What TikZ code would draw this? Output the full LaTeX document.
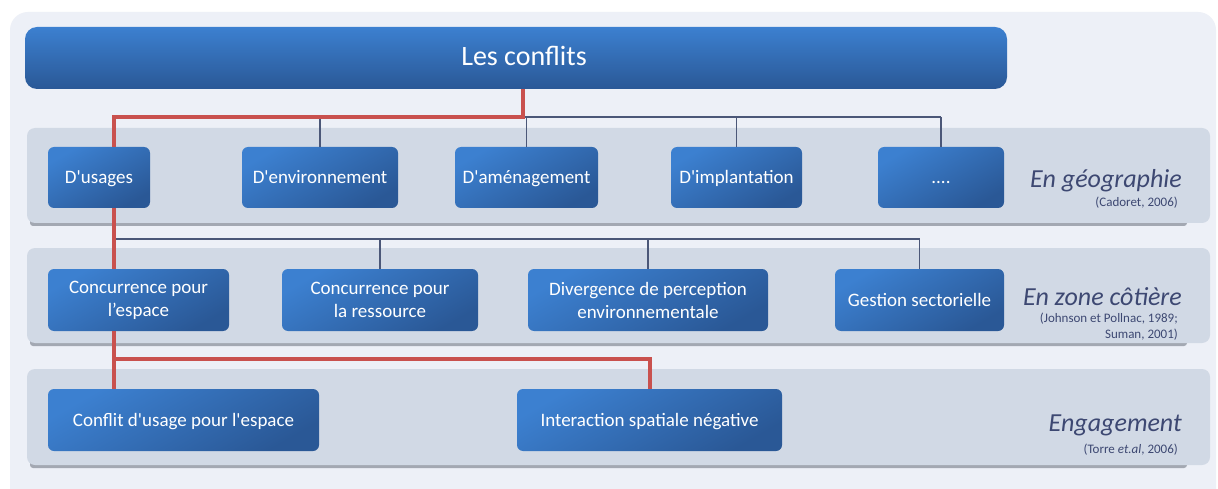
\documentclass[tikz,border=0pt]{standalone}
\usepackage{fontspec}
\setmainfont{Carlito}[Ligatures=TeXOff]
\usetikzlibrary{calc}
\definecolor{panelc}{HTML}{EDF0F7}
\definecolor{bandc}{HTML}{D1D9E5}
\definecolor{shadc}{HTML}{A3A8B2}
\definecolor{boxtop}{HTML}{3C80D0}
\definecolor{boxbot}{HTML}{2A5896}
\definecolor{redc}{HTML}{C9514E}
\definecolor{thinc}{HTML}{4B5778}
\definecolor{catc}{HTML}{3D4872}
\begin{document}
\begin{tikzpicture}[x=1pt,y=-1pt,
  box/.style={rounded corners=6pt, top color=boxtop, bottom color=boxbot, shading angle=30,
    text=white, font=\fontsize{19}{23}\selectfont, align=center, inner sep=0pt},
  onebox/.style={box, text height=15pt, text depth=3pt},
  titlebox/.style={rounded corners=12pt, top color=boxtop, bottom color=boxbot,
    text=white, font=\fontsize{27}{32}\selectfont, inner sep=0pt},
  band/.style={fill=bandc, rounded corners=8pt},
  bandshadow/.style={fill=shadc, rounded corners=3pt},
  redl/.style={draw=redc, line width=4pt},
  thinl/.style={draw=thinc, line width=1.3pt},
  cat/.style={text=catc, font=\fontsize{26}{30}\selectfont\itshape, inner sep=0pt, anchor=base east},
  cite/.style={text=catc, font=\fontsize{13}{16}\selectfont, inner sep=0pt, align=right, anchor=base east}]
\useasboundingbox (0,0) rectangle (1218,489);
\fill[white] (0,0) rectangle (1218,489);
\begin{scope}
\clip (0,0) rectangle (1218,489);
\fill[panelc, rounded corners=18pt] (10,12) rectangle (1216,510);
\end{scope}
% bands
\fill[bandshadow] (30,219) rectangle (1187,226);
\fill[band] (27,128) rectangle (1210,223);
\fill[bandshadow] (30,339) rectangle (1187,346);
\fill[band] (27,248) rectangle (1210,343);
\fill[bandshadow] (30,461) rectangle (1187,468);
\fill[band] (27,369) rectangle (1210,465);
% title
\node[titlebox, minimum width=982pt, minimum height=62pt] (title) at (516,58) {};
\node[text=white, font=\fontsize{28}{32}\selectfont, inner sep=0pt] (titletxt) at (524,56) {Les conflits};
% row 1
\node[onebox, minimum width=102pt, minimum height=61pt] (usages) at (99,177.5) {D'usages};
\node[onebox, minimum width=156pt, minimum height=61pt] (env) at (320,177.5) {D'environnement};
\node[onebox, minimum width=143pt, minimum height=61pt] (amen) at (526.5,177.5) {D'aménagement};
\node[onebox, minimum width=131pt, minimum height=61pt] (impl) at (736.5,177.5) {D'implantation};
\node[onebox, minimum width=126pt, minimum height=61pt] (dots) at (941,177.5) {....};
% row 2
\node[box, minimum width=181pt, minimum height=62pt] (esp) at (138.5,300) {Concurrence pour\\l’espace};
\node[box, minimum width=196pt, minimum height=62pt] (res) at (380,300) {Concurrence pour\\la ressource};
\node[box, minimum width=240pt, minimum height=62pt] (div) at (648,300) {Divergence de perception\\environnementale};
\node[onebox, minimum width=169pt, minimum height=62pt] (gest) at (919.5,300) {Gestion sectorielle};
% row 3
\node[onebox, minimum width=271pt, minimum height=62pt] (conf) at (183.5,420) {Conflit d'usage pour l'espace};
\node[onebox, minimum width=265pt, minimum height=62pt] (inter) at (649.5,420) {Interaction spatiale négative};
% category labels
\node[cat] (geo) at (1182,188) {En géographie};
\node[cite] (geocite) at (1178,207) {(Cadoret, 2006)};
\node[cat] (cot) at (1182,305) {En zone côtière};
\node[cite] (cotcite) at (1178,338) {(Johnson et Pollnac, 1989;\\Suman, 2001)};
\node[cat] (eng) at (1182,431) {Engagement};
\node[cite] (engcite) at (1178,453) {(Torre \textit{et.al}, 2006)};
% connectors
\coordinate (j1) at (523,117);
\coordinate (rx) at (114,0);
\coordinate (j2) at (114,239);
\coordinate (j3) at (114,359);
\draw[thinl] (j1) -- (j1 -| dots.north);
\draw[thinl] (j1 -| env.north) -- (env.north);
\draw[thinl] (j1 -| amen.north) -- (amen.north);
\draw[thinl] (j1 -| impl.north) -- (impl.north);
\draw[thinl] (j1 -| dots.north) -- (dots.north);
\draw[thinl] (j2) -- (j2 -| gest.north);
\draw[thinl] (j2 -| res.north) -- (res.north);
\draw[thinl] (j2 -| div.north) -- (div.north);
\draw[thinl] (j2 -| gest.north) -- (gest.north);
\draw[redl] (j1 |- title.south) -- (j1) -| (rx |- usages.north);
\draw[redl] (rx |- usages.south) -- (rx |- esp.north);
\draw[redl] (rx |- esp.south) -- (rx |- conf.north);
\draw[redl] (j3) -| (inter.north);
\end{tikzpicture}
\end{document}
